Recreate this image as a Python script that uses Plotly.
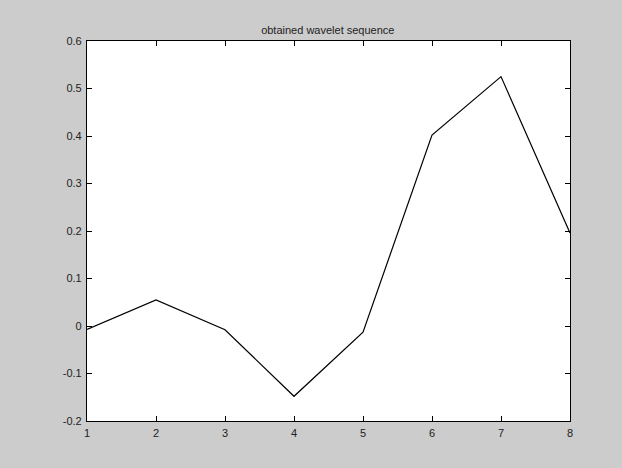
import plotly.graph_objects as go

x_vals = [1, 2, 3, 4, 5, 6, 7, 8]
y_vals = [-0.007, 0.055, -0.008, -0.148, -0.013, 0.402, 0.525, 0.196]
x_ticks = [1, 2, 3, 4, 5, 6, 7, 8]
y_ticks = [-0.2, -0.1, 0, 0.1, 0.2, 0.3, 0.4, 0.5, 0.6]
y_tick_text = ["-0.2", "-0.1", "0", "0.1", "0.2", "0.3", "0.4", "0.5", "0.6"]
title_text = "obtained wavelet sequence"

fig = go.Figure()
fig.add_trace(go.Scatter(x=x_vals, y=y_vals, mode="lines",
                         line=dict(color="black", width=1.2), showlegend=False,
                         hoverinfo="skip"))

axis_common = dict(showline=True, linecolor="black", linewidth=1.2, mirror="ticks",
                   ticks="inside", ticklen=5, tickcolor="black", tickwidth=1,
                   showgrid=False, zeroline=False,
                   tickfont=dict(family="Liberation Sans, Arial", size=11, color="#222222"))

fig.update_layout(
    width=622, height=468,
    paper_bgcolor="#cccccc", plot_bgcolor="white",
    margin=dict(l=87, r=52, t=41, b=47),
    title=dict(text=title_text, x=0.527, xanchor="center", y=1 - 30/468, yanchor="middle",
               font=dict(family="Liberation Sans, Arial", size=11, color="#222222")),
    xaxis=dict(range=[1, 8], tickvals=x_ticks, ticklabelstandoff=2, **axis_common),
    yaxis=dict(range=[-0.2, 0.6], tickvals=y_ticks, ticktext=y_tick_text,
               ticklabelstandoff=2, **axis_common),
)

fig.write_html("out.html", config={"displayModeBar": False},
               post_script="document.body.style.margin='0';")
